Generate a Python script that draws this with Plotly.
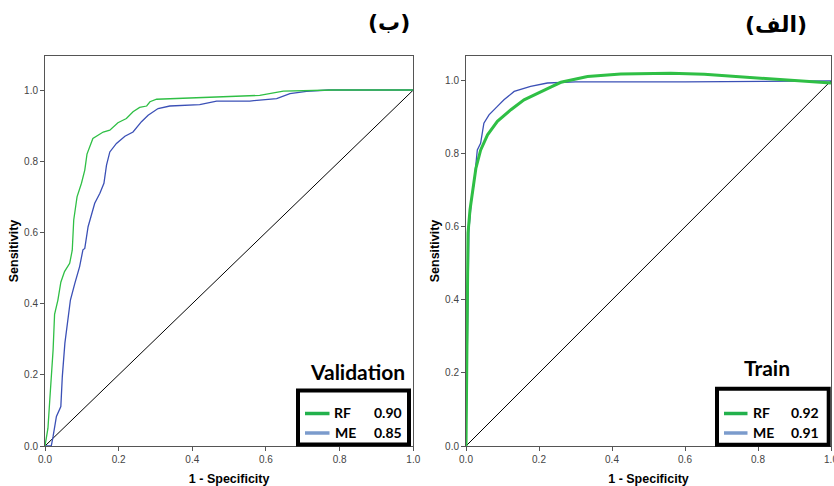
import plotly.graph_objects as go

# ---------------- data ----------------
# Validation panel (left, "(ب)")
val_rf_x = [0.0, 0.008, 0.013, 0.022, 0.026, 0.035, 0.043, 0.053, 0.067, 0.074, 0.078, 0.087,
            0.099, 0.108, 0.114, 0.130, 0.158, 0.176, 0.198, 0.221, 0.239, 0.257, 0.276, 0.285,
            0.303, 0.420, 0.583, 0.647, 0.783, 1.0]
val_rf_y = [0.0, 0.05, 0.13, 0.27, 0.37, 0.41, 0.46, 0.49, 0.513, 0.55, 0.635, 0.70,
            0.738, 0.775, 0.82, 0.864, 0.882, 0.887, 0.908, 0.92, 0.939, 0.951, 0.955, 0.967,
            0.974, 0.979, 0.985, 0.997, 1.0, 1.0]
val_me_x = [0.0, 0.017, 0.022, 0.031, 0.043, 0.047, 0.054, 0.060, 0.069, 0.081, 0.094, 0.103,
            0.108, 0.117, 0.135, 0.149, 0.160, 0.167, 0.176, 0.194, 0.217, 0.239, 0.262, 0.280,
            0.307, 0.339, 0.420, 0.466, 0.556, 0.629, 0.665, 0.710, 0.770, 1.0]
val_me_y = [0.0, 0.0, 0.027, 0.083, 0.111, 0.195, 0.289, 0.345, 0.41, 0.457, 0.504, 0.551,
            0.555, 0.616, 0.682, 0.71, 0.738, 0.789, 0.826, 0.85, 0.87, 0.882, 0.911, 0.929,
            0.948, 0.955, 0.959, 0.969, 0.969, 0.976, 0.99, 0.996, 1.0, 1.0]

# Train panel (right, "(الف)")
tr_rf_x = [0.0, 0.002, 0.0055, 0.011, 0.018, 0.027, 0.040, 0.059, 0.086, 0.123, 0.159, 0.205,
           0.232, 0.260, 0.333, 0.424, 0.561, 0.653, 0.744, 0.835, 0.927, 1.0]
tr_rf_y = [0.0, 0.30, 0.583, 0.647, 0.70, 0.76, 0.81, 0.852, 0.889, 0.921, 0.948, 0.971,
           0.983, 0.996, 1.012, 1.019, 1.021, 1.018, 1.012, 1.005, 0.998, 0.994]
tr_me_x = [0.0, 0.003, 0.0066, 0.008, 0.015, 0.022, 0.031, 0.040, 0.049, 0.063, 0.086, 0.104,
           0.132, 0.177, 0.223, 0.30, 0.60, 1.0]
tr_me_y = [0.0, 0.25, 0.446, 0.592, 0.674, 0.72, 0.811, 0.829, 0.884, 0.907, 0.93, 0.948,
           0.971, 0.985, 0.994, 0.997, 0.997, 1.0]

diag = [0.0, 1.0]
ticks = [0.0, 0.2, 0.4, 0.6, 0.8, 1.0]
tick_text = ["0.0", "0.2", "0.4", "0.6", "0.8", "1.0"]

auc_labels = ["RF", "ME"]
auc_val = ["0.90", "0.85"]
auc_train = ["0.92", "0.91"]

GREEN = "#2fbf45"
BLUE = "#3b50b6"
LEG_GREEN = "#22b14c"
LEG_BLUE = "#7b9bcc"

W, H = 834, 486
ML, MR, MT, MB = 45, 3, 56, 40
PW, PH = W - ML - MR, H - MT - MB


def px(x):
    return (x - ML) / PW


def py(y):
    return (H - MB - y) / PH


fig = go.Figure()

# left panel
fig.add_trace(go.Scatter(x=diag, y=diag, mode="lines", line=dict(color="black", width=1),
                         xaxis="x", yaxis="y", showlegend=False, hoverinfo="skip"))
fig.add_trace(go.Scatter(x=val_me_x, y=val_me_y, mode="lines", line=dict(color=BLUE, width=1.3),
                         xaxis="x", yaxis="y", name="ME", showlegend=False))
fig.add_trace(go.Scatter(x=val_rf_x, y=val_rf_y, mode="lines", line=dict(color=GREEN, width=1.3),
                         xaxis="x", yaxis="y", name="RF", showlegend=False))
# right panel
fig.add_trace(go.Scatter(x=diag, y=diag, mode="lines", line=dict(color="black", width=1),
                         xaxis="x2", yaxis="y2", showlegend=False, hoverinfo="skip"))
fig.add_trace(go.Scatter(x=tr_me_x, y=tr_me_y, mode="lines", line=dict(color=BLUE, width=1.3),
                         xaxis="x2", yaxis="y2", name="ME", showlegend=False))
fig.add_trace(go.Scatter(x=tr_rf_x, y=tr_rf_y, mode="lines", line=dict(color=GREEN, width=3),
                         xaxis="x2", yaxis="y2", name="RF", showlegend=False))

tickfont = dict(family="Liberation Sans, Arial", size=10, color="#444")
titlefont = dict(family="Liberation Sans, Arial", size=12.5, color="black", weight="bold")
common_x = dict(range=[0, 1], tickvals=ticks, ticktext=tick_text, ticks="outside", ticklen=4,
                tickcolor="#555", showline=True, linecolor="#555", linewidth=1, mirror=True,
                showgrid=False, zeroline=False, tickfont=tickfont, ticklabeloverflow="allow",
                title=dict(text="1 - Specificity", font=titlefont, standoff=10))
common_y = dict(tickvals=ticks, ticktext=tick_text, ticks="outside", ticklen=4,
                tickcolor="#555", showline=True, linecolor="#555", linewidth=1, mirror=True,
                showgrid=False, zeroline=False, tickfont=tickfont,
                title=dict(text="Sensitivity", font=titlefont, standoff=2))

fig.update_layout(
    width=W, height=H, margin=dict(l=ML, r=MR, t=MT, b=MB, autoexpand=False),
    paper_bgcolor="white", plot_bgcolor="white",
    xaxis=dict(domain=[0, px(413.3)], anchor="y", **common_x),
    yaxis=dict(domain=[0, 1], anchor="x", range=[0, 1.0955], **common_y),
    xaxis2=dict(domain=[px(466), 1], anchor="y2", **common_x),
    yaxis2=dict(domain=[0, 1], anchor="x2", range=[0, 1.068], **common_y),
)

annots = []
shapes = []
legfont = dict(family="Lato, Open Sans", size=14, color="black", weight="bold")


def legend_block(title, title_cx, title_cy, box, lx0, lx1, lab_cx, val_cx, vals):
    annots.append(dict(text=title, x=px(title_cx), y=py(title_cy), xref="paper", yref="paper",
                       showarrow=False, xanchor="center", yanchor="middle",
                       font=dict(family="Lato, Open Sans", size=21, color="black", weight="bold")))
    x0, x1, y0, y1 = box
    shapes.append(dict(type="rect", xref="paper", yref="paper", x0=px(x0), x1=px(x1),
                       y0=py(y1), y1=py(y0), line=dict(color="black", width=4),
                       fillcolor="white", layer="above"))
    rows = [413.5, 433.0]
    cols = [LEG_GREEN, LEG_BLUE]
    for i in range(2):
        shapes.append(dict(type="line", xref="paper", yref="paper", x0=px(lx0), x1=px(lx1),
                           y0=py(rows[i]), y1=py(rows[i]), line=dict(color=cols[i], width=3.5),
                           layer="above"))
        annots.append(dict(text=auc_labels[i], x=px(lab_cx[i]), y=py(rows[i] - 1), xref="paper",
                           yref="paper", showarrow=False, xanchor="center", yanchor="middle",
                           font=legfont))
        annots.append(dict(text=vals[i], x=px(val_cx), y=py(rows[i] - 1), xref="paper",
                           yref="paper", showarrow=False, xanchor="center", yanchor="middle",
                           font=legfont))


legend_block("Validation", 357, 371, (298, 409, 390.5, 444.5), 305, 329.5, [342, 345], 388,
             auc_val)
legend_block("Train", 767, 367, (717, 828.7, 388.7, 444.7), 724, 747.5, [761.7, 763.3], 805,
             auc_train)

arfont = dict(family="DejaVu Sans", size=22, color="black", weight="bold")
annots.append(dict(text="(ب)", x=px(389), y=py(22), xref="paper", yref="paper",
                   showarrow=False, xanchor="center", yanchor="middle", font=arfont))
annots.append(dict(text="(الف)", x=px(776), y=py(24), xref="paper", yref="paper",
                   showarrow=False, xanchor="center", yanchor="middle", font=arfont))

fig.update_layout(annotations=annots, shapes=shapes)
fig.write_html("out.html", config={"displayModeBar": False},
               post_script="document.body.style.margin='0';document.body.style.overflow='hidden';")
